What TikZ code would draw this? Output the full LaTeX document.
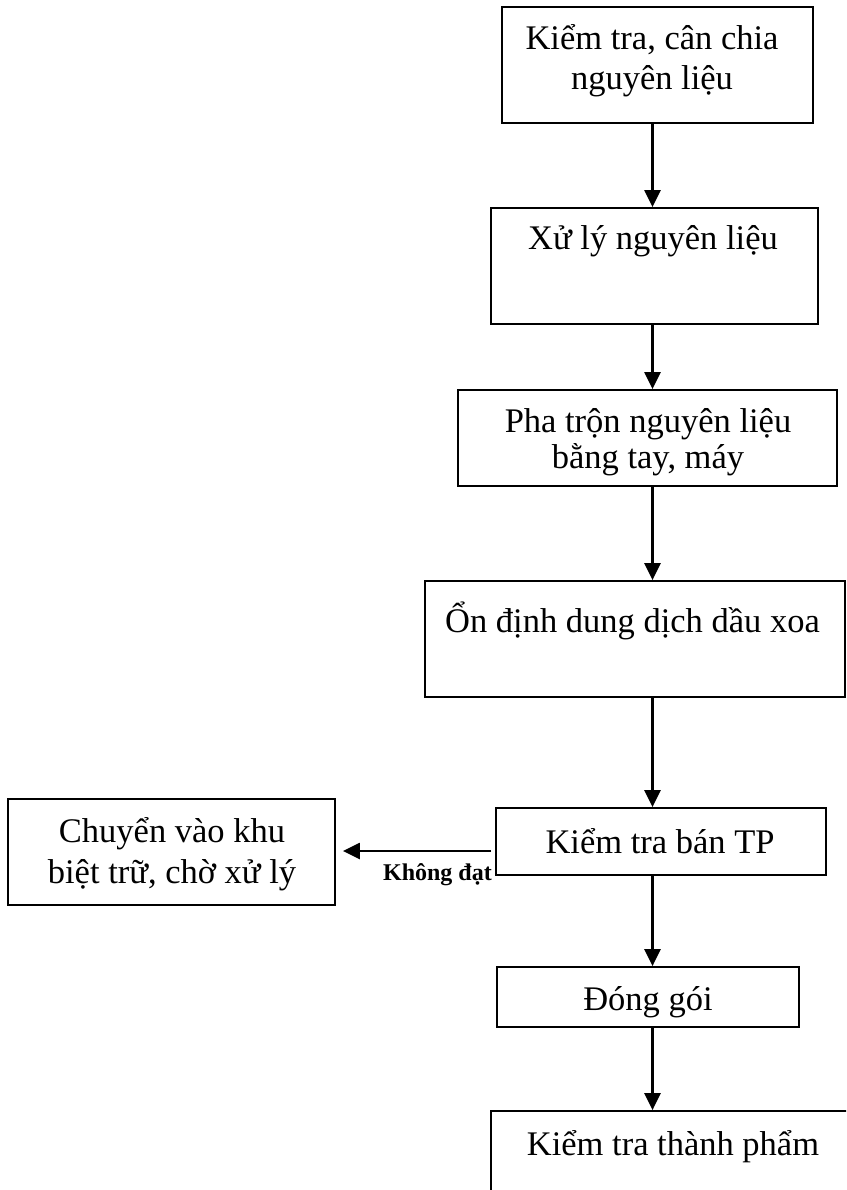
\documentclass[tikz,border=0pt]{standalone}
\usepackage{fontspec}
\setmainfont{Liberation Serif}
\usetikzlibrary{arrows.meta}
\begin{document}
\begin{tikzpicture}[x=1pt,y=-1pt,
  box/.style={draw,line width=1.8pt,inner sep=0pt,minimum width=#1},
  txt/.style={inner sep=0pt,anchor=base,font=\fontsize{34.5}{40}\selectfont},
  arr/.style={line width=2.4pt,-{Triangle[length=17pt,width=16pt]}}]
\clip (0,0) rectangle (846,1190);
\fill[white] (0,0) rectangle (846,1190);
\coordinate (axis) at (652.5,0);
% boxes
\node[box=311pt,minimum height=116pt] (b1) at (657.5,65) {};
\node[box=327pt,minimum height=116pt] (b2) at (654.5,266) {};
\node[box=379pt,minimum height=96pt] (b3) at (647.5,438) {};
\node[box=420pt,minimum height=116pt] (b4) at (635,639) {};
\node[box=330pt,minimum height=67pt] (b5) at (661,841.5) {};
\node[box=327pt,minimum height=106pt] (b6) at (171.5,852) {};
\node[box=302pt,minimum height=60pt] (b7) at (648,997) {};
\node[box=420pt,minimum height=160pt] (b8) at (701,1191) {};
% texts
\node[txt] (t1a) at (652,50) {Kiểm tra, cân chia};
\node[txt] (t1b) at (652,90) {nguyên liệu};
\node[txt] (t2) at (653,250) {Xử lý nguyên liệu};
\node[txt] (t3a) at (648,432) {Pha trộn nguyên liệu};
\node[txt] (t3b) at (648,468) {bằng tay, máy};
\node[txt,anchor=base west] (t4) at (445,632) {Ổn định dung dịch dầu xoa};
\node[txt] (t5) at (660,853) {Kiểm tra bán TP};
\node[txt] (t6a) at (172,842) {Chuyển vào khu};
\node[txt] (t6b) at (172,883) {biệt trữ, chờ xử lý};
\node[txt] (t7) at (648,1010) {Đóng gói};
\node[txt] (t8) at (673,1155) {Kiểm tra thành phẩm};
\node[inner sep=0pt,anchor=base east,font=\bfseries\fontsize{24}{28}\selectfont] (ko) at (492,880) {Không đạt};
% connectors
\draw[arr] (b1.south -| axis) -- (b2.north -| axis);
\draw[arr] (b2.south -| axis) -- (b3.north -| axis);
\draw[arr] (b3.south -| axis) -- (b4.north -| axis);
\draw[arr] (b4.south -| axis) -- (b5.north -| axis);
\draw[arr] (b5.south -| axis) -- (b7.north -| axis);
\draw[arr] (b7.south -| axis) -- (b8.north -| axis);
\coordinate (fail) at ([yshift=-9.5pt]b5.west);
\draw[arr,shorten <=4pt,shorten >=7pt] (fail) -- (fail -| b6.east);
\end{tikzpicture}
\end{document}
